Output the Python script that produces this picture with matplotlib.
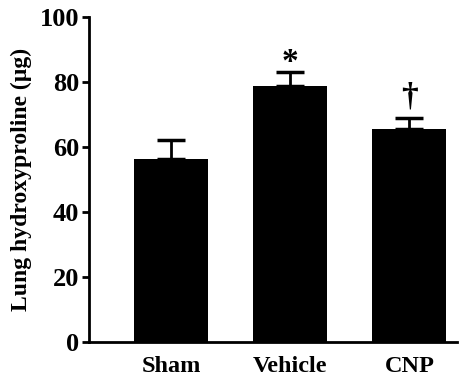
import matplotlib.pyplot as plt

# Dados
grupos = ['Sham', 'Vehicle', 'CNP']
hidroxiprolina = [56.2, 78.9, 65.5]
erro_padrao = [6.1, 4.3, 3.3]
marcas = ['', '*', '†']
altura_marcas = [0, 86.0, 75.5]

plt.rcParams['font.family'] = ['Liberation Serif', 'DejaVu Serif']
plt.rcParams['font.weight'] = 'bold'

fig = plt.figure(figsize=(4.62, 3.79), dpi=100)
ax = fig.add_axes([0.193, 0.098, 0.796, 0.857])

x = range(len(grupos))
ax.bar(x, hidroxiprolina, width=0.62, color='black',
       yerr=[[0] * len(erro_padrao), erro_padrao],
       error_kw=dict(ecolor='black', elinewidth=2, capsize=10, capthick=2.5))

for i, (m, h) in enumerate(zip(marcas, altura_marcas)):
    if m:
        ax.text(i, h, m, ha='center', va='center', fontsize=24, fontweight='bold')

ax.set_xlim(-0.69, 2.4)
ax.set_ylim(0, 100)
ax.set_yticks([0, 20, 40, 60, 80, 100])
ax.set_xticks(list(x))
ax.set_xticklabels(grupos, fontsize=17.5, fontweight='bold')
ax.set_ylabel('Lung hydroxyproline (µg)', fontsize=17, fontweight='bold', labelpad=6)
ax.tick_params(axis='y', labelsize=19, width=2, length=5, direction='out', pad=2)
ax.tick_params(axis='x', length=0, pad=10)
for lab in ax.get_yticklabels():
    lab.set_fontweight('bold')

ax.spines['top'].set_visible(False)
ax.spines['right'].set_visible(False)
ax.spines['left'].set_linewidth(2)
ax.spines['bottom'].set_linewidth(2)

plt.savefig('out.png', dpi=100)
